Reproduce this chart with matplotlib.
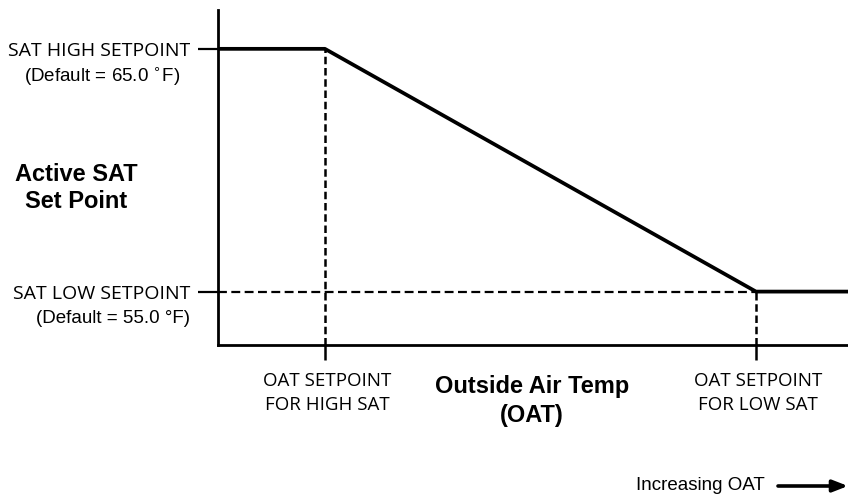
import matplotlib
matplotlib.use("Agg")
import matplotlib.pyplot as plt
from matplotlib.patches import FancyArrowPatch

# set points (degF) and the OAT break points (arbitrary units along the OAT axis)
sat_setpoints = [65.0, 55.0]
oat_setpoints = [0.0, 1.0]
sat_names = ["SAT HIGH SETPOINT", "SAT LOW SETPOINT"]
sat_defaults = ["(Default = 65.0 $^{\\circ}$F)", "(Default = 55.0 \u00b0F)"]
oat_tick_labels = ["OAT SETPOINT\nFOR HIGH SAT", "OAT SETPOINT\nFOR LOW SAT"]

# reset schedule: flat at high, ramp down, flat at low
x_min, x_max = -0.248, 1.2135
y_min, y_max = 52.8, 66.6
curve_x = [x_min, oat_setpoints[0], oat_setpoints[1], x_max]
curve_y = [sat_setpoints[0], sat_setpoints[0], sat_setpoints[1], sat_setpoints[1]]

label_font = "Open Sans"
arial = "Liberation Sans"

fig = plt.figure(figsize=(8.48, 4.96), dpi=100)
ax = fig.add_axes([218 / 848, 1 - 345 / 496, 1 - 218 / 848, (345 - 10) / 496])
ax.set_xlim(x_min, x_max)
ax.set_ylim(y_min, y_max)

# guide lines
ax.plot([oat_setpoints[0]] * 2, [y_min, sat_setpoints[0]], color="black",
        lw=1.8, ls=(0, (3, 1.5)), clip_on=False)
ax.plot([oat_setpoints[1]] * 2, [y_min, sat_setpoints[1]], color="black",
        lw=1.8, ls=(0, (3, 1.5)), clip_on=False)
ax.plot([x_min, oat_setpoints[1]], [sat_setpoints[1]] * 2, color="black",
        lw=1.6, ls=(0, (4, 2)), clip_on=False)

ax.plot(curve_x, curve_y, color="black", lw=2.7, solid_capstyle="butt",
        clip_on=False, zorder=3)

for side in ["top", "right"]:
    ax.spines[side].set_visible(False)
for side in ["left", "bottom"]:
    ax.spines[side].set_linewidth(2.0)

ax.set_yticks(sat_setpoints)
ax.set_yticklabels([])
ax.set_xticks(oat_setpoints)
ax.set_xticklabels([])
ax.tick_params(axis="y", direction="out", length=14.5, width=1.6)
ax.tick_params(axis="x", direction="out", length=11, width=1.8)

# y-side labels
for yv, name, dflt, dx in zip(sat_setpoints, sat_names, sat_defaults, [-38, -28]):
    ax.annotate(name, xy=(0, yv), xycoords=("axes fraction", "data"),
                xytext=(-28, -2), textcoords="offset pixels", ha="right",
                va="center", fontsize=14, family=label_font)
    ax.annotate(dflt, xy=(0, yv), xycoords=("axes fraction", "data"),
                xytext=(dx, -27), textcoords="offset pixels", ha="right",
                va="center", fontsize=13.5, family=arial)

# x-side labels
for xv, lab in zip(oat_setpoints, oat_tick_labels):
    ax.annotate(lab, xy=(xv, 0), xycoords=("data", "axes fraction"),
                xytext=(2, -27), textcoords="offset pixels", ha="center",
                va="top", fontsize=13.5, family=label_font,
                linespacing=1.4)

fig.text(76 / 848, 1 - 188 / 496, "Active SAT\nSet Point", ha="center",
         va="center", fontsize=17, fontweight="bold", family=arial,
         linespacing=1.18)
fig.text(532 / 848, 1 - 401 / 496, "Outside Air Temp\n(OAT)", ha="center",
         va="center", fontsize=17, fontweight="bold", family=arial,
         linespacing=1.3)

fig.text(765 / 848, 1 - 486 / 496, "Increasing OAT", ha="right",
         va="center", fontsize=13.5, family=arial)
fig.add_artist(FancyArrowPatch(
    (778 / 848, 1 - 486 / 496), (848 / 848, 1 - 486 / 496),
    transform=fig.transFigure, arrowstyle="-|>,head_length=9,head_width=3.5",
    color="black", lw=2.6, mutation_scale=1, shrinkA=0, shrinkB=0))

fig.savefig("out.png", dpi=100)
